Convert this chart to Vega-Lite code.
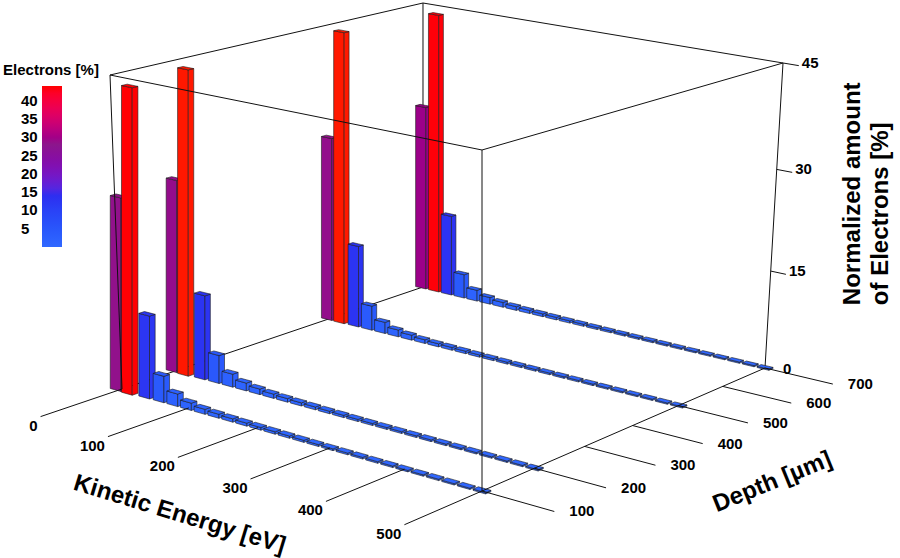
{
  "$schema": "https://vega.github.io/schema/vega-lite/v6.json",
  "width": 900,
  "height": 558,
  "autosize": "none",
  "padding": 0,
  "background": "white",
  "config": {"view": {"stroke": null}},
  "datasets": {
    "bars": [
      {"depth":700,"energy":0,"value":29.4},{"depth":700,"energy":20,"value":43.7},{"depth":700,"energy":40,"value":13.0},{"depth":700,"energy":60,"value":3.9},{"depth":700,"energy":80,"value":1.8},{"depth":700,"energy":100,"value":1.1},{"depth":700,"energy":120,"value":0.8},{"depth":700,"energy":140,"value":0.62},{"depth":700,"energy":160,"value":0.52},{"depth":700,"energy":180,"value":0.46},{"depth":700,"energy":200,"value":0.41},{"depth":700,"energy":220,"value":0.37},{"depth":700,"energy":240,"value":0.34},{"depth":700,"energy":260,"value":0.31},{"depth":700,"energy":280,"value":0.29},{"depth":700,"energy":300,"value":0.27},{"depth":700,"energy":320,"value":0.26},{"depth":700,"energy":340,"value":0.25},{"depth":700,"energy":360,"value":0.24},{"depth":700,"energy":380,"value":0.23},{"depth":700,"energy":400,"value":0.22},{"depth":700,"energy":420,"value":0.21},{"depth":700,"energy":440,"value":0.2},{"depth":700,"energy":460,"value":0.2},{"depth":700,"energy":480,"value":0.19},{"depth":700,"energy":500,"value":0.18},
      {"depth":500,"energy":0,"value":28.6},{"depth":500,"energy":20,"value":44.5},{"depth":500,"energy":40,"value":12.9},{"depth":500,"energy":60,"value":3.9},{"depth":500,"energy":80,"value":1.8},{"depth":500,"energy":100,"value":1.1},{"depth":500,"energy":120,"value":0.8},{"depth":500,"energy":140,"value":0.6},{"depth":500,"energy":160,"value":0.5},{"depth":500,"energy":180,"value":0.45},{"depth":500,"energy":200,"value":0.4},{"depth":500,"energy":220,"value":0.36},{"depth":500,"energy":240,"value":0.33},{"depth":500,"energy":260,"value":0.3},{"depth":500,"energy":280,"value":0.28},{"depth":500,"energy":300,"value":0.27},{"depth":500,"energy":320,"value":0.26},{"depth":500,"energy":340,"value":0.25},{"depth":500,"energy":360,"value":0.24},{"depth":500,"energy":380,"value":0.23},{"depth":500,"energy":400,"value":0.22},{"depth":500,"energy":420,"value":0.21},{"depth":500,"energy":440,"value":0.2},{"depth":500,"energy":460,"value":0.2},{"depth":500,"energy":480,"value":0.19},{"depth":500,"energy":500,"value":0.18},
      {"depth":200,"energy":0,"value":28.7},{"depth":200,"energy":20,"value":44.5},{"depth":200,"energy":40,"value":12.8},{"depth":200,"energy":60,"value":4.3},{"depth":200,"energy":80,"value":2.0},{"depth":200,"energy":100,"value":1.2},{"depth":200,"energy":120,"value":0.85},{"depth":200,"energy":140,"value":0.65},{"depth":200,"energy":160,"value":0.55},{"depth":200,"energy":180,"value":0.48},{"depth":200,"energy":200,"value":0.43},{"depth":200,"energy":220,"value":0.38},{"depth":200,"energy":240,"value":0.35},{"depth":200,"energy":260,"value":0.32},{"depth":200,"energy":280,"value":0.3},{"depth":200,"energy":300,"value":0.28},{"depth":200,"energy":320,"value":0.27},{"depth":200,"energy":340,"value":0.26},{"depth":200,"energy":360,"value":0.25},{"depth":200,"energy":380,"value":0.24},{"depth":200,"energy":400,"value":0.23},{"depth":200,"energy":420,"value":0.22},{"depth":200,"energy":440,"value":0.21},{"depth":200,"energy":460,"value":0.2},{"depth":200,"energy":480,"value":0.2},{"depth":200,"energy":500,"value":0.19},
      {"depth":100,"energy":0,"value":28.4},{"depth":100,"energy":20,"value":43.9},{"depth":100,"energy":40,"value":12.4},{"depth":100,"energy":60,"value":4.0},{"depth":100,"energy":80,"value":1.9},{"depth":100,"energy":100,"value":1.1},{"depth":100,"energy":120,"value":0.75},{"depth":100,"energy":140,"value":0.6},{"depth":100,"energy":160,"value":0.5},{"depth":100,"energy":180,"value":0.45},{"depth":100,"energy":200,"value":0.4},{"depth":100,"energy":220,"value":0.36},{"depth":100,"energy":240,"value":0.33},{"depth":100,"energy":260,"value":0.3},{"depth":100,"energy":280,"value":0.28},{"depth":100,"energy":300,"value":0.26},{"depth":100,"energy":320,"value":0.25},{"depth":100,"energy":340,"value":0.24},{"depth":100,"energy":360,"value":0.23},{"depth":100,"energy":380,"value":0.22},{"depth":100,"energy":400,"value":0.21},{"depth":100,"energy":420,"value":0.2},{"depth":100,"energy":440,"value":0.2},{"depth":100,"energy":460,"value":0.19},{"depth":100,"energy":480,"value":0.18},{"depth":100,"energy":500,"value":0.18}
    ],
    "guides": [
      {"part":"back","seg":1,"e":0,"d":100,"z":0},{"part":"back","seg":1,"e":0,"d":700,"z":0},
      {"part":"back","seg":2,"e":0,"d":100,"z":45},{"part":"back","seg":2,"e":0,"d":700,"z":45},
      {"part":"back","seg":3,"e":0,"d":700,"z":0},{"part":"back","seg":3,"e":0,"d":700,"z":45},
      {"part":"back","seg":4,"e":0,"d":700,"z":45},{"part":"back","seg":4,"e":500,"d":700,"z":45},
      {"part":"back","seg":5,"e":500,"d":700,"z":0},{"part":"back","seg":5,"e":500,"d":700,"z":45},
      {"part":"front","seg":6,"e":0,"d":100,"z":0},{"part":"front","seg":6,"e":0,"d":100,"z":45},
      {"part":"front","seg":7,"e":0,"d":100,"z":45},{"part":"front","seg":7,"e":500,"d":100,"z":45},
      {"part":"front","seg":8,"e":500,"d":100,"z":45},{"part":"front","seg":8,"e":500,"d":700,"z":45},
      {"part":"front","seg":9,"e":500,"d":100,"z":0},{"part":"front","seg":9,"e":500,"d":100,"z":45},
      {"part":"front","seg":10,"e":500,"d":100,"z":0},{"part":"front","seg":10,"e":500,"d":700,"z":0},
      {"part":"front","seg":11,"e":0,"d":100,"z":0},{"part":"front","seg":11,"e":0,"d":-40,"z":0},
      {"part":"front","seg":12,"e":100,"d":100,"z":0},{"part":"front","seg":12,"e":100,"d":-40,"z":0},
      {"part":"front","seg":13,"e":200,"d":100,"z":0},{"part":"front","seg":13,"e":200,"d":-40,"z":0},
      {"part":"front","seg":14,"e":300,"d":100,"z":0},{"part":"front","seg":14,"e":300,"d":-40,"z":0},
      {"part":"front","seg":15,"e":400,"d":100,"z":0},{"part":"front","seg":15,"e":400,"d":-40,"z":0},
      {"part":"front","seg":16,"e":500,"d":100,"z":0},{"part":"front","seg":16,"e":500,"d":-40,"z":0},
      {"part":"front","seg":17,"e":500,"d":100,"z":0},{"part":"front","seg":17,"e":590,"d":100,"z":0},
      {"part":"front","seg":18,"e":500,"d":200,"z":0},{"part":"front","seg":18,"e":590,"d":200,"z":0},
      {"part":"front","seg":19,"e":500,"d":300,"z":0},{"part":"front","seg":19,"e":590,"d":300,"z":0},
      {"part":"front","seg":20,"e":500,"d":400,"z":0},{"part":"front","seg":20,"e":590,"d":400,"z":0},
      {"part":"front","seg":21,"e":500,"d":500,"z":0},{"part":"front","seg":21,"e":590,"d":500,"z":0},
      {"part":"front","seg":22,"e":500,"d":600,"z":0},{"part":"front","seg":22,"e":590,"d":600,"z":0},
      {"part":"front","seg":23,"e":500,"d":700,"z":0},{"part":"front","seg":23,"e":590,"d":700,"z":0},
      {"part":"front","seg":24,"e":500,"d":700,"z":15},{"part":"front","seg":24,"e":520,"d":700,"z":15},
      {"part":"front","seg":25,"e":500,"d":700,"z":30},{"part":"front","seg":25,"e":520,"d":700,"z":30},
      {"part":"front","seg":26,"e":500,"d":700,"z":45},{"part":"front","seg":26,"e":520,"d":700,"z":45}
    ],
    "labels": [
      {"kind":"e","e":0,"d":-40,"z":0,"text":"0"},{"kind":"e","e":100,"d":-40,"z":0,"text":"100"},{"kind":"e","e":200,"d":-40,"z":0,"text":"200"},{"kind":"e","e":300,"d":-40,"z":0,"text":"300"},{"kind":"e","e":400,"d":-40,"z":0,"text":"400"},{"kind":"e","e":500,"d":-40,"z":0,"text":"500"},
      {"kind":"d","e":590,"d":100,"z":0,"text":"100"},{"kind":"d","e":590,"d":200,"z":0,"text":"200"},{"kind":"d","e":590,"d":300,"z":0,"text":"300"},{"kind":"d","e":590,"d":400,"z":0,"text":"400"},{"kind":"d","e":590,"d":500,"z":0,"text":"500"},{"kind":"d","e":590,"d":600,"z":0,"text":"600"},{"kind":"d","e":590,"d":700,"z":0,"text":"700"},
      {"kind":"z","e":520,"d":700,"z":0,"text":"0"},{"kind":"z","e":520,"d":700,"z":15,"text":"15"},{"kind":"z","e":520,"d":700,"z":30,"text":"30"},{"kind":"z","e":520,"d":700,"z":45,"text":"45"},
      {"kind":"te","e":315,"d":-176,"z":0,"text":"Kinetic Energy [eV]"},
      {"kind":"td","e":710,"d":340,"z":0,"text":"Depth [µm]"},
      {"kind":"tz","e":617,"d":700,"z":12.8,"text":"Normalized amount\nof Electrons [%]"},
      {"kind":"lt","e":-165,"d":100,"z":42.7,"text":"Electrons [%]"}
    ]
  },
  "layer": [
    {
      "data": {"name": "guides"},
      "transform": [
        {"filter": "datum.part == 'back'"},
        {"calculate": "datum.e/500", "as": "u"},
        {"calculate": "(datum.d-100)/600", "as": "v"},
        {"calculate": "datum.z/45*(0.93+0.07*datum.z/45)", "as": "s"},
        {"calculate": "1-0.08808*datum.u+0.12551*datum.v", "as": "w0"},
        {"calculate": "1-0.09478*datum.u+0.11258*datum.v", "as": "w1"},
        {"calculate": "(1-datum.s)*(317.55*datum.u+354.09*datum.v+122)/datum.w0+datum.s*(326.32*datum.u+360.62*datum.v+110)/datum.w1", "as": "px"},
        {"calculate": "(1-datum.s)*(58.75*datum.u-65.98*datum.v+389)/datum.w0+datum.s*(60.78*datum.u-71.66*datum.v+75)/datum.w1", "as": "py"}
      ],
      "mark": {"type": "line", "color": "#111111", "strokeWidth": 1},
      "encoding": {
        "x": {"field": "px", "type": "quantitative", "scale": {"domain": [0, 900], "nice": false, "zero": false}, "axis": null},
        "y": {"field": "py", "type": "quantitative", "scale": {"domain": [0, 558], "nice": false, "zero": false, "reverse": true}, "axis": null},
        "detail": {"field": "seg", "type": "nominal"}
      }
    },
    {
      "data": {"name": "bars"},
      "transform": [
        {"calculate": "(datum.energy-8)/500", "as": "u0"},
        {"calculate": "(datum.energy+8)/500", "as": "u1"},
        {"calculate": "(datum.depth-105)/600", "as": "v0"},
        {"calculate": "(datum.depth-95)/600", "as": "v1"},
        {"calculate": "datum.value/90*(0.93+0.07*datum.value/90)", "as": "sm"},
        {"calculate": "datum.value/45*(0.93+0.07*datum.value/45)", "as": "st"},
        {"calculate": "1-0.08808*datum.u0+0.12551*datum.v0", "as": "fa"},
        {"calculate": "1-0.09478*datum.u0+0.11258*datum.v0", "as": "ga"},
        {"calculate": "(1-datum.sm)*(317.55*datum.u0+354.09*datum.v0+122)/datum.fa+datum.sm*(326.32*datum.u0+360.62*datum.v0+110)/datum.ga", "as": "xa"},
        {"calculate": "(58.75*datum.u0-65.98*datum.v0+389)/datum.fa", "as": "ba"},
        {"calculate": "(1-datum.st)*datum.ba+datum.st*(60.78*datum.u0-71.66*datum.v0+75)/datum.ga", "as": "ta"},
        {"calculate": "1-0.08808*datum.u1+0.12551*datum.v0", "as": "fb"},
        {"calculate": "1-0.09478*datum.u1+0.11258*datum.v0", "as": "gb"},
        {"calculate": "(1-datum.sm)*(317.55*datum.u1+354.09*datum.v0+122)/datum.fb+datum.sm*(326.32*datum.u1+360.62*datum.v0+110)/datum.gb", "as": "xb"},
        {"calculate": "(58.75*datum.u1-65.98*datum.v0+389)/datum.fb", "as": "bb"},
        {"calculate": "(1-datum.st)*datum.bb+datum.st*(60.78*datum.u1-71.66*datum.v0+75)/datum.gb", "as": "tb"},
        {"calculate": "1-0.08808*datum.u1+0.12551*datum.v1", "as": "fc"},
        {"calculate": "1-0.09478*datum.u1+0.11258*datum.v1", "as": "gc"},
        {"calculate": "(1-datum.sm)*(317.55*datum.u1+354.09*datum.v1+122)/datum.fc+datum.sm*(326.32*datum.u1+360.62*datum.v1+110)/datum.gc", "as": "xc"},
        {"calculate": "(58.75*datum.u1-65.98*datum.v1+389)/datum.fc", "as": "bc"},
        {"calculate": "(1-datum.st)*datum.bc+datum.st*(60.78*datum.u1-71.66*datum.v1+75)/datum.gc", "as": "tc"},
        {"calculate": "1-0.08808*datum.u0+0.12551*datum.v1", "as": "fd"},
        {"calculate": "1-0.09478*datum.u0+0.11258*datum.v1", "as": "gd"},
        {"calculate": "(1-datum.sm)*(317.55*datum.u0+354.09*datum.v1+122)/datum.fd+datum.sm*(326.32*datum.u0+360.62*datum.v1+110)/datum.gd", "as": "xd"},
        {"calculate": "(58.75*datum.u0-65.98*datum.v1+389)/datum.fd", "as": "bd"},
        {"calculate": "(1-datum.st)*datum.bd+datum.st*(60.78*datum.u0-71.66*datum.v1+75)/datum.gd", "as": "td"},
        {"calculate": "[0,1,2,3,4,5,6,7]", "as": "k"},
        {"flatten": ["k"]},
        {"calculate": "datum.k<2?0:(datum.k<4?1:2)", "as": "face"},
        {"calculate": "(800-datum.depth)*10000+datum.energy*10+datum.face", "as": "gid"},
        {"calculate": "[datum.xa,datum.xb,datum.xb,datum.xc,datum.xa,datum.xd,datum.xb,datum.xc][datum.k]", "as": "px"},
        {"calculate": "[datum.ba,datum.bb,datum.bb,datum.bc,datum.ta,datum.ta+(datum.tb-datum.ta)*(datum.xd-datum.xa)/(datum.xb-datum.xa),datum.tb,datum.tc][datum.k]", "as": "py"},
        {"calculate": "[datum.ta,datum.tb,datum.tb,datum.tc,datum.ta,datum.td,datum.td+(datum.tc-datum.td)*(datum.xb-datum.xd)/(datum.xc-datum.xd),datum.tc][datum.k]", "as": "py2"}
      ],
      "mark": {"type": "area", "orient": "vertical", "opacity": 1, "stroke": "#1c1c1c", "strokeWidth": 0.6, "strokeJoin": "round"},
      "encoding": {
        "x": {"field": "px", "type": "quantitative", "scale": {"domain": [0, 900], "nice": false, "zero": false}, "axis": null},
        "y": {"field": "py", "type": "quantitative", "scale": {"domain": [0, 558], "nice": false, "zero": false, "reverse": true}, "axis": null},
        "y2": {"field": "py2"},
        "detail": {"field": "gid", "type": "nominal"},
        "color": {
          "field": "value", "type": "quantitative",
          "scale": {"domain": [0, 14, 28, 44], "range": ["#3068ff", "#2e2ef0", "#8c168c", "#ff0000"]},
          "legend": {
            "orient": "none", "legendX": 42, "legendY": 86, "direction": "vertical",
            "title": null,
            "gradientLength": 161, "gradientThickness": 20, "gradientStrokeWidth": 0,
            "values": [5, 10, 15, 20, 25, 30, 35, 40],
            "labelExpr": "datum.value < 10 ? '\u2007' + datum.label : datum.label",
            "labelAlign": "left", "labelOffset": -41, "labelFont": "Liberation Sans", "labelFontSize": 15, "labelFontWeight": "bold", "labelColor": "#000000", "labelOverlap": false
          }
        }
      }
    },
    {
      "data": {"name": "guides"},
      "transform": [
        {"filter": "datum.part == 'front'"},
        {"calculate": "datum.e/500", "as": "u"},
        {"calculate": "(datum.d-100)/600", "as": "v"},
        {"calculate": "datum.z/45*(0.93+0.07*datum.z/45)", "as": "s"},
        {"calculate": "1-0.08808*datum.u+0.12551*datum.v", "as": "w0"},
        {"calculate": "1-0.09478*datum.u+0.11258*datum.v", "as": "w1"},
        {"calculate": "(1-datum.s)*(317.55*datum.u+354.09*datum.v+122)/datum.w0+datum.s*(326.32*datum.u+360.62*datum.v+110)/datum.w1", "as": "px"},
        {"calculate": "(1-datum.s)*(58.75*datum.u-65.98*datum.v+389)/datum.w0+datum.s*(60.78*datum.u-71.66*datum.v+75)/datum.w1", "as": "py"}
      ],
      "mark": {"type": "line", "color": "#111111", "strokeWidth": 1},
      "encoding": {
        "x": {"field": "px", "type": "quantitative", "scale": {"domain": [0, 900], "nice": false, "zero": false}, "axis": null},
        "y": {"field": "py", "type": "quantitative", "scale": {"domain": [0, 558], "nice": false, "zero": false, "reverse": true}, "axis": null},
        "detail": {"field": "seg", "type": "nominal"}
      }
    },
    {
      "data": {"name": "labels"},
      "transform": [
        {"calculate": "datum.e/500", "as": "u"},
        {"calculate": "(datum.d-100)/600", "as": "v"},
        {"calculate": "datum.z/45*(0.93+0.07*datum.z/45)", "as": "s"},
        {"calculate": "1-0.08808*datum.u+0.12551*datum.v", "as": "w0"},
        {"calculate": "1-0.09478*datum.u+0.11258*datum.v", "as": "w1"},
        {"calculate": "(1-datum.s)*(317.55*datum.u+354.09*datum.v+122)/datum.w0+datum.s*(326.32*datum.u+360.62*datum.v+110)/datum.w1", "as": "px"},
        {"calculate": "(1-datum.s)*(58.75*datum.u-65.98*datum.v+389)/datum.w0+datum.s*(60.78*datum.u-71.66*datum.v+75)/datum.w1", "as": "py"}
      ],
      "encoding": {
        "x": {"field": "px", "type": "quantitative", "scale": {"domain": [0, 900], "nice": false, "zero": false}, "axis": null},
        "y": {"field": "py", "type": "quantitative", "scale": {"domain": [0, 558], "nice": false, "zero": false, "reverse": true}, "axis": null},
        "text": {"field": "text", "type": "nominal"}
      },
      "layer": [
        {
          "transform": [{"filter": "datum.kind == 'e'"}],
          "mark": {"type": "text", "font": "Liberation Sans", "fontWeight": "bold", "fontSize": 15, "align": "right", "baseline": "top", "dx": -3, "dy": 2, "color": "#000000"}
        },
        {
          "transform": [{"filter": "datum.kind == 'd'"}],
          "mark": {"type": "text", "font": "Liberation Sans", "fontWeight": "bold", "fontSize": 15, "align": "left", "baseline": "middle", "dx": 15, "color": "#000000"}
        },
        {
          "transform": [{"filter": "datum.kind == 'z'"}],
          "mark": {"type": "text", "font": "Liberation Sans", "fontWeight": "bold", "fontSize": 15, "align": "left", "baseline": "middle", "dx": 3, "dy": -3, "color": "#000000"}
        },
        {
          "transform": [{"filter": "datum.kind == 'lt'"}],
          "mark": {"type": "text", "font": "Liberation Sans", "fontWeight": "bold", "fontSize": 15, "align": "left", "baseline": "middle", "color": "#000000"}
        },
        {
          "transform": [{"filter": "datum.kind == 'te'"}],
          "mark": {"type": "text", "font": "Liberation Sans", "fontWeight": "bold", "fontSize": 24, "align": "center", "baseline": "middle", "angle": 17, "color": "#000000"}
        },
        {
          "transform": [{"filter": "datum.kind == 'td'"}],
          "mark": {"type": "text", "font": "Liberation Sans", "fontWeight": "bold", "fontSize": 24, "align": "center", "baseline": "middle", "angle": -22, "color": "#000000"}
        },
        {
          "transform": [{"filter": "datum.kind == 'tz'"}],
          "mark": {"type": "text", "font": "Liberation Sans", "fontWeight": "bold", "fontSize": 24, "align": "left", "baseline": "alphabetic", "angle": -90, "lineBreak": "\n", "lineHeight": 28, "color": "#000000"}
        }
      ]
    }
  ]
}
